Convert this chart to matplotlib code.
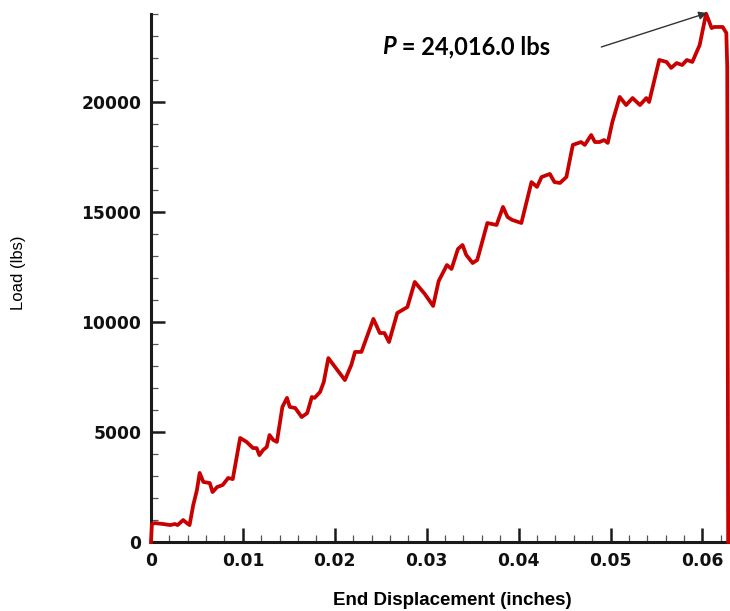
import matplotlib
matplotlib.use("Agg")
import matplotlib.pyplot as plt
from matplotlib.ticker import MultipleLocator

# End displacement (in) and load (lbs) from the compression test record
displacement = [
    0.0000, 0.0001, 0.0004, 0.0013, 0.0021, 0.0026, 0.0029, 0.0035, 0.0039, 0.0042,
    0.0046, 0.0050, 0.0053, 0.0057, 0.0064, 0.0067, 0.0072, 0.0078, 0.0084, 0.0089,
    0.0097, 0.0104, 0.0111, 0.0115, 0.0118, 0.0122, 0.0126, 0.0129, 0.0133, 0.0137,
    0.0143, 0.0148, 0.0151, 0.0157, 0.0164, 0.0170, 0.0175, 0.0178, 0.0184, 0.0188,
    0.0193, 0.0211, 0.0218, 0.0222, 0.0229, 0.0242, 0.0249, 0.0254, 0.0259, 0.0268,
    0.0279, 0.0287, 0.0298, 0.0307, 0.0313, 0.0322, 0.0327, 0.0334, 0.0339, 0.0343,
    0.0350, 0.0355, 0.0366, 0.0376, 0.0383, 0.0388, 0.0393, 0.0403, 0.0414, 0.0420,
    0.0425, 0.0434, 0.0439, 0.0445, 0.0452, 0.0459, 0.0468, 0.0472, 0.0479, 0.0483,
    0.0488, 0.0493, 0.0497, 0.0502, 0.0510, 0.0517, 0.0524, 0.0532, 0.0539, 0.0542,
    0.0553, 0.0561, 0.0566, 0.0572, 0.0578, 0.0583, 0.0589, 0.0597, 0.0604, 0.0610,
    0.0613, 0.0616, 0.0622, 0.0626, 0.0627, 0.0628,
]
load = [
    0, 820, 860, 820, 770, 820, 770, 1000, 860, 770,
    1680, 2360, 3140, 2730, 2680, 2270, 2500, 2590, 2910, 2860,
    4730, 4550, 4270, 4270, 3950, 4180, 4320, 4860, 4640, 4550,
    6140, 6550, 6140, 6090, 5680, 5860, 6590, 6550, 6820, 7270,
    8360, 7360, 8050, 8640, 8640, 10140, 9500, 9500, 9090, 10410,
    10680, 11820, 11270, 10730, 11860, 12590, 12410, 13320, 13500, 13050,
    12680, 12820, 14500, 14410, 15230, 14770, 14640, 14500, 16360, 16140,
    16590, 16730, 16360, 16320, 16590, 18050, 18180, 18050, 18500, 18180,
    18180, 18270, 18140, 19090, 20230, 19860, 20180, 19860, 20180, 20000,
    21910, 21820, 21550, 21770, 21680, 21910, 21820, 22590, 24016, 23360,
    23410, 23410, 23410, 23140, 21590, 0,
]

peak_disp = 0.0604
peak_load = 24016.0
peak_label = "24,016.0 lbs"

x_ticks = [0, 0.01, 0.02, 0.03, 0.04, 0.05, 0.06]
x_tick_labels = ["0", "0.01", "0.02", "0.03", "0.04", "0.05", "0.06"]
y_ticks = [0, 5000, 10000, 15000, 20000]

fig = plt.figure(figsize=(7.3, 6.11), dpi=100)
ax = fig.add_axes([0.2068, 0.1129, 0.7932, 0.8642])

ax.plot(displacement, load, color="#c80000", lw=2.7, solid_joinstyle="round",
        clip_on=False, zorder=3)

ax.set_xlim(0, 0.0630)
ax.set_ylim(0, 24000)

for side in ("top", "right"):
    ax.spines[side].set_visible(False)
for side in ("left", "bottom"):
    ax.spines[side].set_linewidth(2.2)
    ax.spines[side].set_color("#1a1a1a")

ax.set_xticks(x_ticks)
ax.set_xticklabels(x_tick_labels)
ax.set_yticks(y_ticks)
ax.xaxis.set_minor_locator(MultipleLocator(0.002))
ax.yaxis.set_minor_locator(MultipleLocator(1000))
ax.tick_params(which="major", direction="in", length=10, width=1.8,
               color="#1a1a1a", labelsize=12.3, pad=7)
ax.tick_params(which="minor", direction="in", length=5, width=0.9,
               color="#555555")
for lab in ax.get_xticklabels() + ax.get_yticklabels():
    lab.set_fontfamily("DejaVu Sans")
    lab.set_fontweight("bold")
    lab.set_color("#111111")

# Peak load callout
ax.annotate("", xy=(peak_disp + 0.0001, peak_load + 30), xytext=(0.0490, 22500),
            arrowprops=dict(arrowstyle="-|>", color="#333333", lw=1.0,
                            mutation_scale=12, shrinkA=0, shrinkB=0),
            annotation_clip=False, zorder=4)
p_txt = ax.text(0.0252, 22500, "P", fontsize=17, fontweight="bold",
                fontstyle="italic", family="Lato", va="center", ha="left")
ax.annotate(" = " + peak_label, xy=(1, 0.5), xycoords=p_txt, va="center",
            ha="left", fontsize=17, fontweight="bold", family="Lato")

fig.text(0.025, 0.553, "Load (lbs)", rotation=90, ha="center", va="center",
         fontsize=12, family="Liberation Sans")
fig.text(0.62, 0.018, "End Displacement (inches)", ha="center", va="center",
         fontsize=13.5, fontweight="bold", family="Liberation Sans")

fig.savefig("out.png", dpi=100)
